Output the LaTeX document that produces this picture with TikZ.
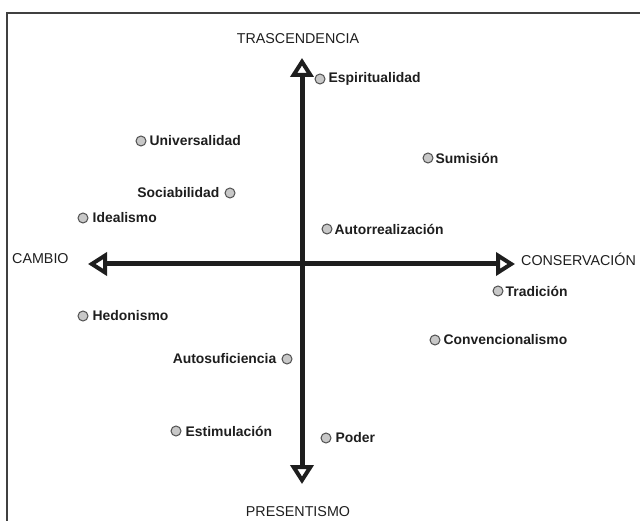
\documentclass[tikz,border=0pt]{standalone}
\usepackage{fontspec}
\setmainfont{Liberation Sans}
\usetikzlibrary{arrows.meta}
\definecolor{ink}{HTML}{1E1E1E}
\definecolor{dotfill}{HTML}{C8C8C8}
\definecolor{dotline}{HTML}{505050}
\tikzset{
  dot/.style={circle, draw=dotline, fill=dotfill, line width=1pt, minimum size=10pt, inner sep=0pt},
  lbl/.style={font=\fontsize{13.9}{15}\selectfont\bfseries, text=ink, inner sep=0pt},
  axislbl/.style={font=\fontsize{14.3}{16}\selectfont, text=ink, inner sep=0pt},
  tipshape/.style={Triangle[open,length=19pt,width=23pt,line width=4pt]},
  axis/.style={draw=ink, line width=5pt, {Triangle[open,length=19pt,width=23pt,line width=4pt]}-{Triangle[open,length=19pt,width=23pt,line width=4pt]}},
  frame/.style={draw=ink!85, line width=1.8pt}
}
\begin{document}
\begin{tikzpicture}[x=1pt,y=-1pt]
\useasboundingbox (0,0) rectangle (640,521);
% frame
\coordinate (fA) at (7,521);
\coordinate (fB) at (7,13);
\coordinate (fC) at (640,13);
\draw[frame] (fA) -- (fB) -- (fC);
% axes
\coordinate (top) at (302,58);
\coordinate (bot) at (302,484);
\coordinate (lft) at (88,264);
\coordinate (rgt) at (515,264);
\draw[axis] (bot) -- (top);
\draw[axis] (lft) -- (rgt);
% axis labels
\node[axislbl] (tras) at (298,39) {TRASCENDENCIA};
\node[axislbl] (pres) at (298,512) {PRESENTISMO};
\node[axislbl, anchor=west] (camb) at (12,259) {CAMBIO};
\node[axislbl, anchor=west] (cons) at (521,259) {CONSERVACIÓN};
% items
\node[dot] (dEsp) at (320,79) {};
\node[lbl, anchor=west] (tEsp) at ([xshift=3pt]dEsp.east) {Espiritualidad};
\node[dot] (dUni) at (141,141) {};
\node[lbl, anchor=west] (tUni) at ([xshift=3pt]dUni.east) {Universalidad};
\node[dot] (dSum) at (428,158) {};
\node[lbl, anchor=west] (tSum) at ([xshift=2pt]dSum.east) {Sumisión};
\node[dot] (dSoc) at (230,193) {};
\node[lbl, anchor=east] (tSoc) at ([xshift=-5pt]dSoc.west) {Sociabilidad};
\node[dot] (dIde) at (83,218) {};
\node[lbl, anchor=west] (tIde) at ([xshift=4pt]dIde.east) {Idealismo};
\node[dot] (dAut) at (327,229) {};
\node[lbl, anchor=west] (tAut) at ([xshift=2pt]dAut.east) {Autorrealización};
\node[dot] (dTra) at (498,291) {};
\node[lbl, anchor=west] (tTra) at ([xshift=2pt]dTra.east) {Tradición};
\node[dot] (dHed) at (83,316) {};
\node[lbl, anchor=west] (tHed) at ([xshift=4pt]dHed.east) {Hedonismo};
\node[dot] (dCon) at (435,340) {};
\node[lbl, anchor=west] (tCon) at ([xshift=3pt]dCon.east) {Convencionalismo};
\node[dot] (dAsu) at (287,359) {};
\node[lbl, anchor=east] (tAsu) at ([xshift=-5pt]dAsu.west) {Autosuficiencia};
\node[dot] (dEst) at (176,431) {};
\node[lbl, anchor=west] (tEst) at ([xshift=4pt]dEst.east) {Estimulación};
\node[dot] (dPod) at (326,438) {};
\node[lbl, anchor=west] (tPod) at ([xshift=4pt]dPod.east) {Poder};
\end{tikzpicture}
\end{document}
